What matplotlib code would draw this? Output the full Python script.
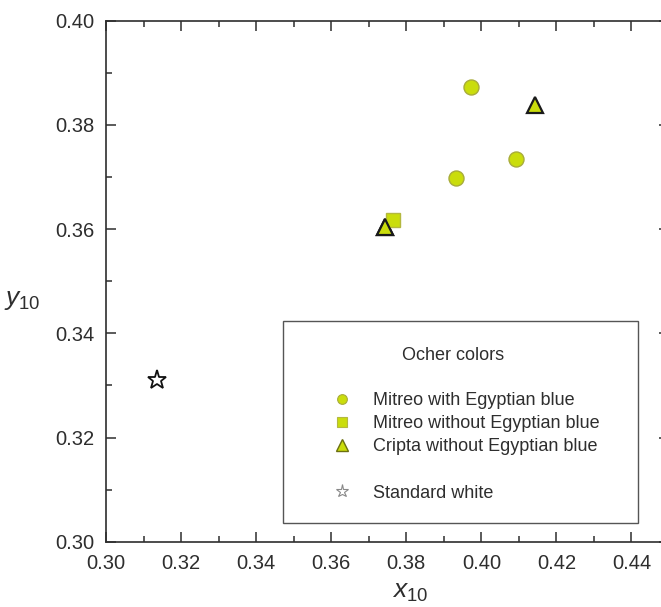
import matplotlib
matplotlib.use('Agg')
import numpy as np
from matplotlib import pyplot as plt
from matplotlib.lines import Line2D
from matplotlib.patches import Rectangle

plt.rcParams['font.family'] = ['Liberation Sans', 'DejaVu Sans']
plt.rcParams['mathtext.fontset'] = 'custom'
plt.rcParams['mathtext.it'] = 'Liberation Sans:italic'
plt.rcParams['mathtext.rm'] = 'Liberation Sans'

# chromaticity coordinates
mitreo_eb_x = [0.3973, 0.3933, 0.4093]
mitreo_eb_y = [0.3873, 0.3698, 0.3735]
mitreo_noeb_x = [0.3765]
mitreo_noeb_y = [0.3617]
cripta_x = [0.3744, 0.4144]
cripta_y = [0.3604, 0.3838]
white_x = [0.3136]
white_y = [0.3310]

labels = ['Mitreo with Egyptian blue', 'Mitreo without Egyptian blue',
          'Cripta without Egyptian blue', ' ', 'Standard white']
xticks = [0.30, 0.32, 0.34, 0.36, 0.38, 0.40, 0.42, 0.44]
yticks = [0.30, 0.32, 0.34, 0.36, 0.38, 0.40]

ink = '#2e2e2e'
green = '#cadd0c'

fig = plt.figure(figsize=(6.61, 6.07), dpi=100)
ax = fig.add_axes([106 / 661, (607 - 541.7) / 607, (669 - 106) / 661, 521 / 607])

ax.plot(mitreo_eb_x, mitreo_eb_y, 'o', ms=10.8, mfc=green, mec='#a8ac3a', mew=1.0)
ax.plot(cripta_x, cripta_y, '^', ms=12, mfc=green, mec='#1a1a1a', mew=1.6)
ax.plot(mitreo_noeb_x, mitreo_noeb_y, 's', ms=10, mfc=green, mec='#b4b840', mew=1.0)
ax.plot(cripta_x[:1], cripta_y[:1], '^', ms=12, mfc=green, mec='#1a1a1a', mew=1.6)
ax.plot(white_x, white_y, '*', ms=14, mfc='white', mec='#111111', mew=1.3)

ax.set_xlim(0.30, 0.45)
ax.set_ylim(0.30, 0.40)
ax.set_xticks(xticks)
ax.set_yticks(yticks)
ax.set_xticklabels(['%.2f' % v for v in xticks])
ax.set_yticklabels(['%.2f' % v for v in yticks])
ax.set_xticks(np.arange(0.31, 0.45, 0.02), minor=True)
ax.set_yticks(np.arange(0.31, 0.40, 0.02), minor=True)
ax.tick_params(which='both', direction='in', top=True, right=True, colors=ink,
               width=1.1, labelsize=14.5, pad=8.5, labelcolor=ink)
ax.tick_params(which='major', length=7.5)
ax.tick_params(which='minor', length=4.0)
for s in ax.spines.values():
    s.set_linewidth(1.2)
    s.set_color(ink)

fig.text(22 / 661, 1 - 300 / 607, r'$y_{\mathrm{10}}$', fontsize=19, color=ink,
         ha='center', va='center')
fig.text(410 / 661, 1 - 592 / 607, r'$x_{\mathrm{10}}$', fontsize=19, color=ink,
         ha='center', va='center')

# legend box
ax.add_patch(Rectangle((0.3147, 0.0359), 0.6311, 0.3877, transform=ax.transAxes,
                       fill=False, ec='#555555', lw=1.0, zorder=3))
ax.text((453 - 106) / 563, (541.7 - 355) / 521, 'Ocher colors', transform=ax.transAxes,
        ha='center', va='center', fontsize=13, color=ink)

handles = [
    Line2D([], [], ls='none', marker='o', ms=7, mfc=green, mec='#a8ac3a', mew=0.8),
    Line2D([], [], ls='none', marker='s', ms=6.5, mfc=green, mec='#b4b840', mew=0.8),
    Line2D([], [], ls='none', marker='^', ms=8.5, mfc=green, mec='#6b7010', mew=1.0),
    Line2D([], [], ls='none'),
    Line2D([], [], ls='none', marker='*', ms=9.5, mfc='white', mec='#888888', mew=0.8),
]
ax.legend(handles, labels, loc='upper left', bbox_to_anchor=((333 - 106) / 563, (541.7 - 392) / 521),
          frameon=False, borderpad=0, borderaxespad=0, handlelength=1.0, handletextpad=1.2,
          labelspacing=0.34, fontsize=13, labelcolor=ink)

fig.savefig('out.png', dpi=100)
